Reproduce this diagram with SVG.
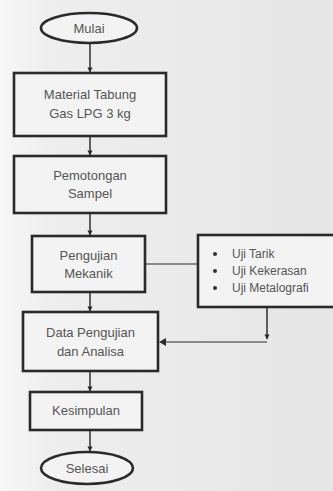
<svg xmlns="http://www.w3.org/2000/svg" width="333" height="491" viewBox="0 0 333 491">
  <defs>
    <linearGradient id="bg" x1="0" y1="0" x2="1" y2="0">
      <stop offset="0" stop-color="#f7f7f7"/>
      <stop offset="0.15" stop-color="#eeeeee"/>
      <stop offset="1" stop-color="#e6e6e6"/>
    </linearGradient>
    <marker id="arr" viewBox="0 0 10 10" refX="9" refY="5" markerWidth="3.2" markerHeight="3.2" orient="auto" markerUnits="strokeWidth">
      <path d="M0,0 L10,5 L0,10 z" fill="#2a2a2a"/>
    </marker>
    <style>
      .node { fill: #f3f3f3; stroke: #2a2a2a; stroke-width: 2.6; }
      .conn { fill: none; stroke: #3a3a3a; stroke-width: 1.6; }
      .conn2 { fill: none; stroke: #8a8a8a; stroke-width: 2; }
      .t { font-family: "Liberation Sans", Arial, sans-serif; font-size: 13px; fill: #555; text-anchor: middle; }
      .s { font-family: "Liberation Sans", Arial, sans-serif; font-size: 12px; fill: #555; }
    </style>
  </defs>
  <rect x="0" y="0" width="333" height="491" fill="url(#bg)"/>

  <g id="connectors">
    <path class="conn" d="M90,43 V72" marker-end="url(#arr)"/>
    <path class="conn" d="M90,136 V155" marker-end="url(#arr)"/>
    <path class="conn" d="M90,213 V235" marker-end="url(#arr)"/>
    <path class="conn" d="M90,292 V311" marker-end="url(#arr)"/>
    <path class="conn" d="M90,371 V391" marker-end="url(#arr)"/>
    <path class="conn" d="M90,430 V451" marker-end="url(#arr)"/>
    <path class="conn2" d="M145,264 H198"/>
    <path class="conn" d="M267,307 V339" marker-end="url(#arr)"/>
    <path class="conn2" d="M267,342 H162"/>
    <path d="M159,342 L166,338 L166,346 z" fill="#2a2a2a"/>
  </g>

  <g id="mulai">
    <ellipse class="node" cx="89" cy="28" rx="48" ry="15"/>
    <text class="t" x="89" y="33">Mulai</text>
  </g>

  <g id="material">
    <rect class="node" x="14" y="73" width="152" height="63"/>
    <text class="t" x="90" y="99">Material Tabung</text>
    <text class="t" x="90" y="118">Gas LPG 3 kg</text>
  </g>

  <g id="pemotongan">
    <rect class="node" x="14" y="156" width="152" height="57"/>
    <text class="t" x="90" y="180">Pemotongan</text>
    <text class="t" x="90" y="198">Sampel</text>
  </g>

  <g id="pengujian">
    <rect class="node" x="32" y="236" width="113" height="56"/>
    <text class="t" x="88.5" y="260">Pengujian</text>
    <text class="t" x="88.5" y="278">Mekanik</text>
  </g>

  <g id="uji">
    <rect class="node" x="198" y="235" width="150" height="72"/>
    <circle cx="215" cy="254" r="2" fill="#333"/>
    <circle cx="215" cy="271" r="2" fill="#333"/>
    <circle cx="215" cy="288" r="2" fill="#333"/>
    <text class="s" x="232" y="258">Uji Tarik</text>
    <text class="s" x="232" y="275">Uji Kekerasan</text>
    <text class="s" x="232" y="292">Uji Metalografi</text>
  </g>

  <g id="data">
    <rect class="node" x="23" y="312" width="135" height="59"/>
    <text class="t" x="90.5" y="337">Data Pengujian</text>
    <text class="t" x="90.5" y="356">dan Analisa</text>
  </g>

  <g id="kesimpulan">
    <rect class="node" x="30" y="392" width="112" height="38"/>
    <text class="t" x="86" y="415">Kesimpulan</text>
  </g>

  <g id="selesai">
    <ellipse class="node" cx="87" cy="468" rx="46" ry="16"/>
    <text class="t" x="87" y="473">Selesai</text>
  </g>
</svg>
